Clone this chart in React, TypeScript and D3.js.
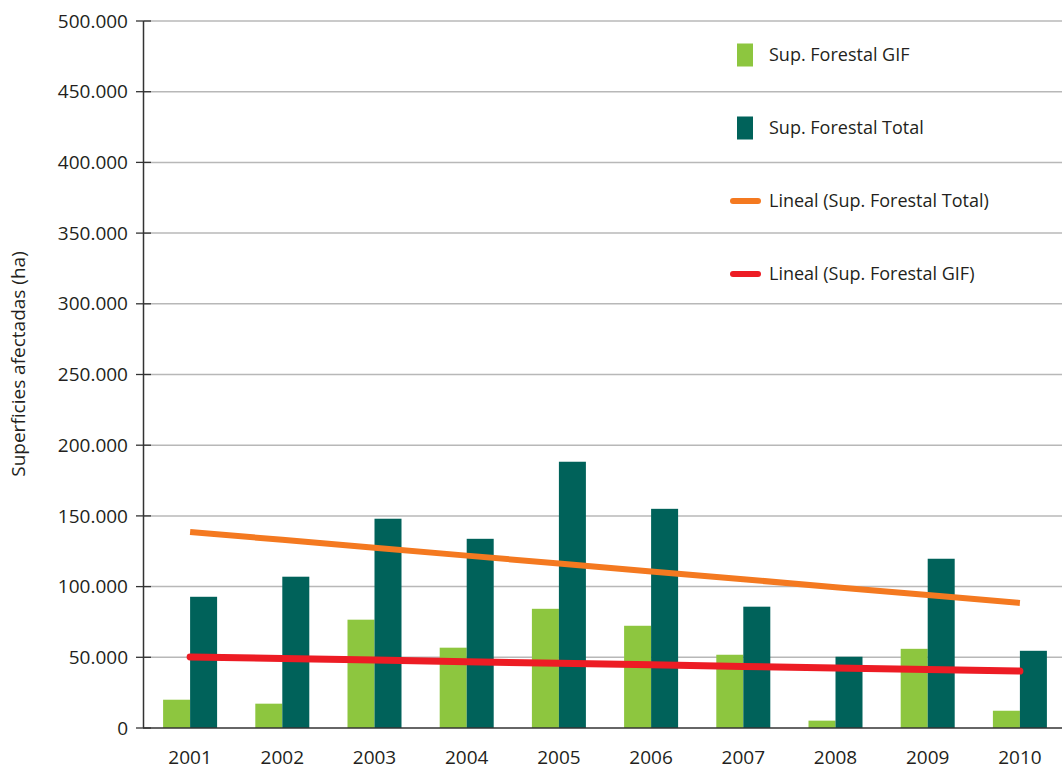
import React from 'react';
import * as d3 from 'd3';

// values (hectares)
const years = ['2001', '2002', '2003', '2004', '2005', '2006', '2007', '2008', '2009', '2010'];
const supGIF = [20000, 17200, 76600, 56800, 84300, 72300, 51800, 5200, 56000, 12200];
const supTotal = [92800, 107000, 148000, 133800, 188300, 155000, 85800, 50400, 119700, 54600];
const yTicks = [0, 50000, 100000, 150000, 200000, 250000, 300000, 350000, 400000, 450000, 500000];

const legendItems = [
  { label: 'Sup. Forestal GIF', kind: 'bar', color: '#8dc63f' },
  { label: 'Sup. Forestal Total', kind: 'bar', color: '#00625a' },
  { label: 'Lineal (Sup. Forestal Total)', kind: 'line', color: '#f47920' },
  { label: 'Lineal (Sup. Forestal GIF)', kind: 'line', color: '#ed1c24' },
];

const width = 1062;
const height = 769;
const margin = { top: 21, right: -4, bottom: 41, left: 144 };
const font = "'Open Sans', sans-serif";

// least squares trend, like the "Lineal" trendline of the spreadsheet
const trend = (vals: number[]) => {
  const xs = vals.map((_, i) => i + 1);
  const mx = d3.mean(xs)!;
  const my = d3.mean(vals)!;
  const sxy = d3.sum(xs, (x, i) => (x - mx) * (vals[i] - my));
  const sxx = d3.sum(xs, (x) => (x - mx) * (x - mx));
  const b = sxy / sxx;
  return xs.map((x) => my + b * (x - mx));
};

const fmt = (v: number) => (v === 0 ? '0' : d3.format(',')(v).replace(/,/g, '.'));

export default function App() {
  const x = d3.scaleBand<string>().domain(years).range([margin.left, width - margin.right]).padding(0);
  const y = d3.scaleLinear().domain([0, 500000]).range([height - margin.bottom, margin.top]);
  const barW = 27;
  const cx = (yr: string) => x(yr)! + x.bandwidth() / 2;

  const line = d3.line<number>()
    .x((_, i) => cx(years[i]))
    .y((d) => y(d));

  const totalTrend = trend(supTotal);
  const gifTrend = trend(supGIF);

  return (
    <svg width={width} height={height} style={{ position: 'absolute', left: 0, top: 0, fontFamily: font }}>
      <rect width={width} height={height} fill="#fff" />

      {/* gridlines */}
      {yTicks.filter((t) => t > 0).map((t) => (
        <line key={'g' + t} x1={margin.left} x2={width} y1={y(t)} y2={y(t)} stroke="#b8b8b8" strokeWidth={1.5} />
      ))}

      {/* bars */}
      {years.map((yr, i) => (
        <g key={yr}>
          <rect x={cx(yr) - barW} y={y(supGIF[i])} width={barW} height={y(0) - y(supGIF[i])} fill="#8dc63f" />
          <rect x={cx(yr)} y={y(supTotal[i])} width={barW} height={y(0) - y(supTotal[i])} fill="#00625a" />
        </g>
      ))}

      {/* trend lines */}
      <path d={line(totalTrend)!} fill="none" stroke="#f47920" strokeWidth={6} />
      <path d={line(gifTrend)!} fill="none" stroke="#ed1c24" strokeWidth={7} strokeLinecap="round" />

      {/* axes */}
      <line x1={margin.left - 0.5} x2={margin.left - 0.5} y1={y(500000)} y2={y(0)} stroke="#333" strokeWidth={1.5} />
      <line x1={margin.left - 1} x2={width} y1={y(0)} y2={y(0)} stroke="#333" strokeWidth={1.5} />
      {yTicks.map((t) => (
        <g key={'t' + t}>
          <line x1={136} x2={151} y1={y(t)} y2={y(t)} stroke="#333" strokeWidth={1.3} />
          <text x={128} y={y(t)} dy="0.35em" textAnchor="end" fontSize={19} fill="#231f20">{fmt(t)}</text>
        </g>
      ))}
      {years.map((yr) => (
        <text key={'x' + yr} x={cx(yr)} y={764} textAnchor="middle" fontSize={19} fill="#231f20">{yr}</text>
      ))}

      <text transform={`translate(25,364) rotate(-90)`} textAnchor="middle" fontSize={19} fill="#231f20">
        Superficies afectadas (ha)
      </text>

      {/* legend */}
      {legendItems.map((it, i) => {
        const yc = 55 + i * 73;
        return (
          <g key={it.label}>
            {it.kind === 'bar' ? (
              <rect x={737} y={yc - 11.5} width={16} height={23} fill={it.color} />
            ) : (
              <line x1={733} x2={758} y1={yc} y2={yc} stroke={it.color} strokeWidth={6} strokeLinecap="round" />
            )}
            <text x={769} y={yc} dy="0.35em" fontSize={18} fill="#231f20">{it.label}</text>
          </g>
        );
      })}
    </svg>
  );
}
